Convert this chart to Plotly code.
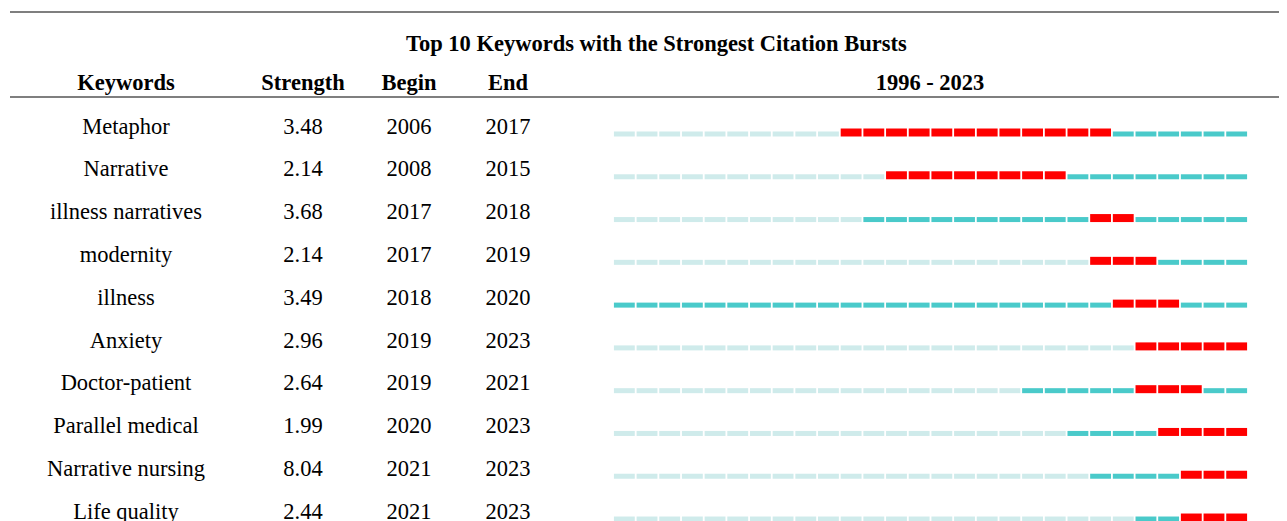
"""
Citation burst table (CiteSpace style) drawn with Plotly.
"""

import plotly.graph_objects as go

keywords = [
    "Metaphor", "Narrative", "illness narratives", "modernity", "illness",
    "Anxiety", "Doctor-patient", "Parallel medical", "Narrative nursing", "Life quality",
]
strength = [3.48, 2.14, 3.68, 2.14, 3.49, 2.96, 2.64, 1.99, 8.04, 2.44]
begin = [2006, 2008, 2017, 2017, 2018, 2019, 2019, 2020, 2021, 2021]
end = [2017, 2015, 2018, 2019, 2020, 2023, 2021, 2023, 2023, 2023]
# first year the keyword shows up (start of the teal part)
first_seen = [2006, 2008, 2007, 2017, 1996, 2019, 2014, 2016, 2017, 2019]
year_start, year_end = 1996, 2023

LIGHT = "#CFEBEB"
TEAL = "#4ACACA"
RED = "#FF0000"
FONT = "Liberation Serif"

SCREEN_W, SCREEN_H = 1287, 521
PAGE = 8  # body margin of the html page
W, H = SCREEN_W - PAGE, SCREEN_H - PAGE
px_year = 635 / (year_end - year_start + 1)
x0 = (year_start - 0.5) - (613 - PAGE) / px_year
row_px = 42.78
y0 = -(127 - PAGE) / row_px


def ypos(px):
    # screen pixel row -> y axis value (row 0 text centre at 127px)
    return (px - 127) / row_px


segs = {"light": ([], []), "teal": ([], []), "red": ([], [])}
for i in range(len(keywords)):
    for yr in range(year_start, year_end + 1):
        if begin[i] <= yr <= end[i]:
            key = "red"
        elif yr < first_seen[i]:
            key = "light"
        else:
            key = "teal"
        segs[key][0].append(yr)
        segs[key][1].append(i)

fig = go.Figure()
styles = {
    "light": (LIGHT, 0.105, 0.117),
    "teal": (TEAL, 0.105, 0.117),
    "red": (RED, 0.035, 0.187),
}
for key, (color, off, wid) in styles.items():
    yrs, rows = segs[key]
    fig.add_trace(go.Bar(
        orientation="h",
        y=rows,
        x=[0.92] * len(yrs),
        base=[yr - 0.46 for yr in yrs],
        offset=off,
        width=wid,
        marker=dict(color=color, line=dict(width=0)),
        hoverinfo="skip",
        showlegend=False,
    ))

# table text on a pixel-like second x axis
cols = {"kw": 126, "st": 303, "be": 409, "en": 508}
rows = list(range(len(keywords)))
text_shift = 1 / row_px
for xpos, vals in [
    (cols["kw"], keywords),
    (cols["st"], [f"{s:.2f}" for s in strength]),
    (cols["be"], [str(b) for b in begin]),
    (cols["en"], [str(e) for e in end]),
]:
    fig.add_trace(go.Scatter(
        x=[xpos] * len(vals), y=[r + text_shift for r in rows], text=vals,
        mode="text", textposition="middle center",
        textfont=dict(family=FONT, size=22.5, color="black"),
        xaxis="x2", hoverinfo="skip", showlegend=False,
    ))

headers = ["Keywords", "Strength", "Begin", "End", f"{year_start} - {year_end}"]
header_x = [cols["kw"], cols["st"], cols["be"], cols["en"], 930]
fig.add_trace(go.Scatter(
    x=header_x, y=[ypos(84)] * len(headers),
    text=[f"<b>{h}</b>" for h in headers], mode="text",
    textfont=dict(family=FONT, size=22.5, color="black"),
    xaxis="x2", hoverinfo="skip", showlegend=False,
))

fig.add_annotation(
    text="<b>Top 10 Keywords with the Strongest Citation Bursts</b>",
    xref="x2", yref="y", x=656, y=ypos(43),
    showarrow=False, font=dict(family=FONT, size=22.5, color="black"),
)

for ypx in (12, 97):
    fig.add_shape(type="line", xref="x2", yref="y",
                  x0=10, x1=SCREEN_W, y0=ypos(ypx), y1=ypos(ypx),
                  line=dict(color="#555555", width=1.5))

fig.update_layout(
    width=W, height=H,
    margin=dict(l=0, r=0, t=0, b=0),
    plot_bgcolor="white", paper_bgcolor="white",
    barmode="overlay",
    xaxis=dict(range=[x0, x0 + W / px_year], visible=False, fixedrange=True),
    xaxis2=dict(range=[PAGE, W + PAGE], visible=False, overlaying="x",
                fixedrange=True),
    yaxis=dict(range=[y0 + H / row_px, y0], visible=False, fixedrange=True),
)

fig.write_html("out.html")
